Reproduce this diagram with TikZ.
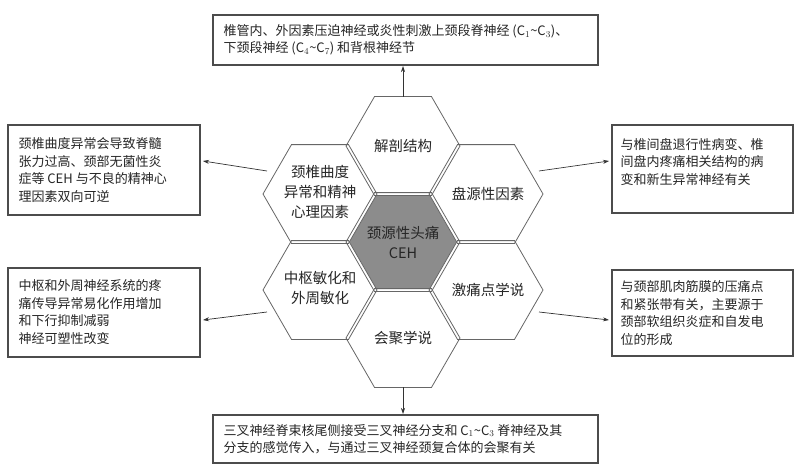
\documentclass[tikz,border=0pt]{standalone}
\usepackage{fontspec}
\setmainfont{Noto Sans CJK SC}
\usetikzlibrary{arrows.meta}
\begin{document}
\begin{tikzpicture}[x=1pt,y=-1pt,
  hex/.style={draw=black!60,line width=0.8pt,fill=white},
  tbox/.style={draw=black!70,line width=1.1pt,fill=white,inner sep=0pt},
  btxt/.style={font=\fontsize{13}{17.5}\selectfont,align=left,text=black!85,anchor=west},
  htxt/.style={font=\fontsize{14.5}{20}\selectfont,align=center,text=black!85},
  arr/.style={draw=black!80,line width=0.7pt,-{Stealth[length=6pt,width=4pt]}}]
\useasboundingbox (0,0) rectangle (800,476);
\def\R{57}
\foreach \n/\cx/\cy/\f in {c/403/242/black!45,t/403/146/white,b/403/338/white,ul/320/194/white,ur/486/194/white,ll/320/290/white,lr/486/290/white}{
  \fill[\f] (\cx+\R,\cy) -- (\cx+\R/2,\cy-49.4) -- (\cx-\R/2,\cy-49.4) -- (\cx-\R,\cy) -- (\cx-\R/2,\cy+49.4) -- (\cx+\R/2,\cy+49.4) -- cycle;
}
\foreach \n/\cx/\cy in {t/403/146,b/403/338,ul/320/194,ur/486/194,ll/320/290,lr/486/290,c/403/242}{
  \draw[hex,fill=none] (\cx+\R,\cy) -- (\cx+\R/2,\cy-49.4) -- (\cx-\R/2,\cy-49.4) -- (\cx-\R,\cy) -- (\cx-\R/2,\cy+49.4) -- (\cx+\R/2,\cy+49.4) -- cycle;
}
\node[htxt] (hc) at (403,242) {颈源性头痛\\CEH};
\node[htxt] (ht) at (403,146) {解剖结构};
\node[htxt] (hb) at (403,338) {会聚学说};
\node[htxt] (hul) at (320,192) {颈椎曲度\\异常和精神\\心理因素};
\node[htxt] (hur) at (488,194) {盘源性因素};
\node[htxt] (hll) at (320,288) {中枢敏化和\\外周敏化};
\node[htxt] (hlr) at (488,290) {激痛点学说};
\coordinate (pt) at (403,97);
\coordinate (pb) at (403,387);
\coordinate (pul) at (267,171);
\coordinate (pll) at (267,312);
\coordinate (pur) at (539,171);
\coordinate (plr) at (539,312);
\draw[tbox] (213,15) rectangle (598,65);
\node[btxt] (tt) at (220,40) {椎管内、外因素压迫神经或炎性刺激上颈段脊神经 (C$_1$\textasciitilde C$_3$)、\\下颈段神经 (C$_4$\textasciitilde C$_7$) 和背根神经节};
\draw[tbox] (213,415) rectangle (598,463);
\node[btxt] (tb) at (220,439) {三叉神经脊束核尾侧接受三叉神经分支和 C$_1$\textasciitilde C$_3$ 脊神经及其\\分支的感觉传入，与通过三叉神经颈复合体的会聚有关};
\draw[tbox] (8,125) rectangle (200,215);
\node[btxt] (tul) at (15,170) {颈椎曲度异常会导致脊髓\\张力过高、颈部无菌性炎\\症等 CEH 与不良的精神心\\理因素双向可逆};
\draw[tbox] (8,268) rectangle (200,357);
\node[btxt] (tll) at (15,312) {中枢和外周神经系统的疼\\痛传导异常易化作用增加\\和下行抑制减弱\\神经可塑性改变};
\draw[tbox] (612,125) rectangle (793,213);
\node[btxt] (tur) at (617,162) {与椎间盘退行性病变、椎\\间盘内疼痛相关结构的病\\变和新生异常神经有关};
\draw[tbox] (612,270) rectangle (793,356);
\node[btxt] (tlr) at (617,313) {与颈部肌肉筋膜的压痛点\\和紧张带有关，主要源于\\颈部软组织炎症和自发电\\位的形成};
\coordinate (at) at (403,66);
\coordinate (ab) at (403,414);
\coordinate (aul) at (203,161);
\coordinate (all) at (203,320);
\coordinate (aur) at (609,161);
\coordinate (alr) at (609,320);
\draw[arr] (pt) -- (at);
\draw[arr] (pb) -- (ab);
\draw[arr] (pul) -- (aul);
\draw[arr] (pll) -- (all);
\draw[arr] (pur) -- (aur);
\draw[arr] (plr) -- (alr);
\end{tikzpicture}
\end{document}
